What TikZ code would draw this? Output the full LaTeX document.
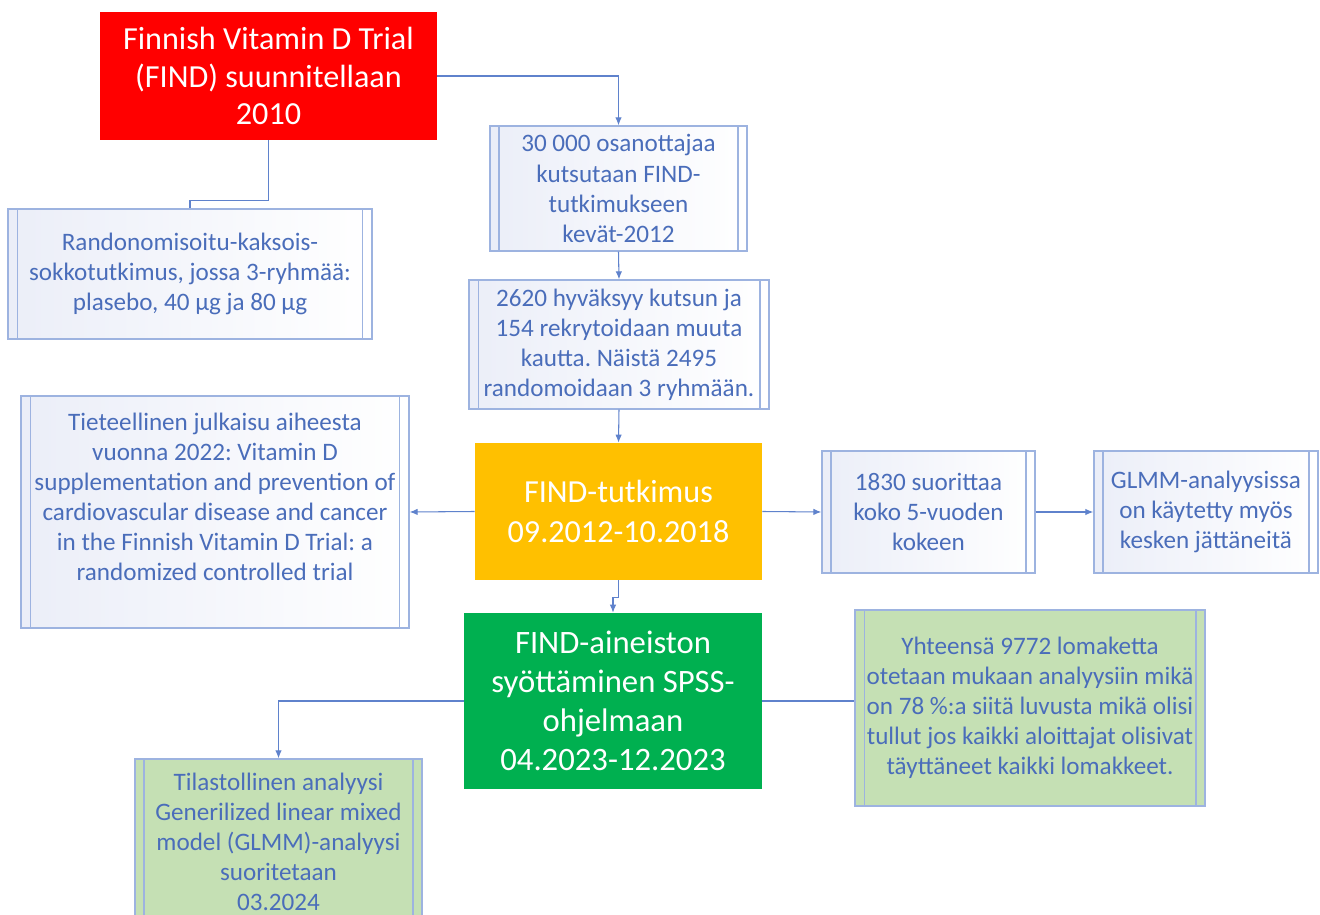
\documentclass[tikz,border=0pt]{standalone}
\usepackage{fontspec}
\setmainfont{Carlito}
\frenchspacing
\usetikzlibrary{arrows.meta, calc}
\definecolor{findred}{HTML}{FF0000}
\definecolor{findyellow}{HTML}{FFC000}
\definecolor{findgreen}{HTML}{00B050}
\definecolor{palegreen}{HTML}{C5E0B4}
\definecolor{boxline}{HTML}{9DB3E0}
\definecolor{boxtext}{HTML}{4A6DBA}
\definecolor{linkcol}{HTML}{5F82CC}
\definecolor{boxshade}{HTML}{EBEEF8}

\tikzset{
  headbox/.style={align=center, text=white, inner sep=0pt,
    font=\fontsize{18.3}{21.3}\selectfont},
  procbox/.style={draw=boxline, line width=0.8pt, align=center, text=boxtext,
    inner sep=0pt, font=\fontsize{14.3}{17.1}\selectfont,
    path picture={
      \draw[boxline, line width=0.6pt]
        ([xshift=0.18cm]path picture bounding box.north west) --
        ([xshift=0.18cm]path picture bounding box.south west);
      \draw[boxline, line width=0.6pt]
        ([xshift=-0.18cm]path picture bounding box.north east) --
        ([xshift=-0.18cm]path picture bounding box.south east);
    }},
  blueshade/.style={left color=boxshade, right color=white},
  link/.style={draw=linkcol, line width=0.6pt},
  arrowlink/.style={link, -{Latex[length=1.6mm, width=1.3mm]}}
}

\begin{document}
\begin{tikzpicture}[x=0.02cm, y=-0.02cm]
\clip (0,0) rectangle (1320,915);
\fill[white] (0,0) rectangle (1320,915);

% top of the flow
\node[headbox, fill=findred, minimum width=6.74cm, minimum height=2.56cm] (plan) at (268.5,76)
  {Finnish Vitamin D Trial\\(FIND) suunnitellaan\\2010};
\node[procbox, blueshade, minimum width=7.28cm, minimum height=2.6cm] (design) at (190,274)
  {Randonomisoitu-kaksois-\\sokkotutkimus, jossa 3-ryhmää:\\plasebo, 40 µg ja 80 µg};
\node[procbox, blueshade, minimum width=5.14cm, minimum height=2.5cm] (invite) at (618.5,188.5)
  {30 000 osanottajaa\\kutsutaan FIND-\\tutkimukseen\\kevät-2012};
\node[procbox, blueshade, minimum width=6.0cm, minimum height=2.58cm] (accept) at (619,344.5)
  {2620 hyväksyy kutsun ja\\154 rekrytoidaan muuta\\kautta. Näistä 2495\\randomoidaan 3 ryhmään.};

% middle row
\node[headbox, fill=findyellow, minimum width=5.74cm, minimum height=2.74cm,
  font=\fontsize{18.3}{22.8}\selectfont] (trial) at (618.5,511.5)
  {FIND-tutkimus\\09.2012-10.2018};
\node[procbox, blueshade, minimum width=7.76cm, minimum height=4.64cm] (paper) at (215,512)
  {Tieteellinen julkaisu aiheesta\\vuonna 2022: Vitamin D\\supplementation and prevention of\\cardiovascular disease and cancer\\in the Finnish Vitamin D Trial: a\\randomized controlled trial\\\mbox{}};
\node[procbox, blueshade, minimum width=4.26cm, minimum height=2.44cm] (complete) at (928.5,512)
  {1830 suorittaa\\koko 5-vuoden\\kokeen};
\node[procbox, blueshade, minimum width=4.48cm, minimum height=2.44cm] (dropout) at (1206,512)
  {GLMM-analyysissa\\on käytetty myös\\kesken jättäneitä};

% bottom
\node[headbox, fill=findgreen, minimum width=5.96cm, minimum height=3.52cm,
  font=\fontsize{18.6}{22.3}\selectfont] (spss) at (613,701)
  {FIND-aineiston\\syöttäminen SPSS-\\ohjelmaan\\04.2023-12.2023};
\node[procbox, fill=palegreen, minimum width=7.0cm, minimum height=3.92cm] (forms) at (1030,708)
  {Yhteensä 9772 lomaketta\\otetaan mukaan analyysiin mikä\\on 78 \%:a siitä luvusta mikä olisi\\tullut jos kaikki aloittajat olisivat\\täyttäneet kaikki lomakkeet.};
\node[procbox, fill=palegreen, minimum width=5.74cm, minimum height=3.32cm] (glmm) at (278.5,842)
  {Tilastollinen analyysi\\Generilized linear mixed\\model (GLMM)-analyysi\\suoritetaan\\03.2024};

% connectors
\draw[arrowlink] (plan.east) -| (invite.north);
\draw[link] (plan.south) -- ++(0,60) -| (design.north);
\draw[arrowlink] (invite.south) -- (accept.north);
\draw[arrowlink] (accept.south) -- (trial.north);
\draw[arrowlink] (trial.west) -- (paper.east);
\draw[arrowlink] (trial.east) -- (complete.west);
\draw[arrowlink] (complete.east) -- (dropout.west);
\draw[arrowlink] (trial.south) -- ++(0,17) -| (spss.north);
\draw[arrowlink] (spss.west) -| (glmm.north);
\draw[link] (spss.east) -- (spss.east -| forms.west);
\end{tikzpicture}
\end{document}
